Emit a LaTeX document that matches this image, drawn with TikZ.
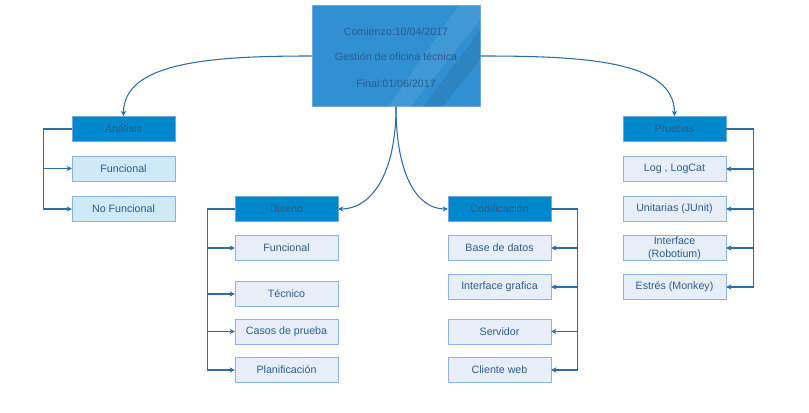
\documentclass[tikz,border=0pt]{standalone}
\usepackage{fontspec}
\setmainfont{Liberation Sans}
\usetikzlibrary{arrows.meta}

\definecolor{hdfill}{HTML}{0088CC}
\definecolor{hdline}{HTML}{6FA8DC}
\definecolor{hdtext}{HTML}{2B5D8C}
\definecolor{rootfill}{HTML}{3090D2}
\definecolor{boxfill}{HTML}{E8EEF8}
\definecolor{cyanfill}{HTML}{D0E9F6}
\definecolor{boxline}{HTML}{8DB3E2}
\definecolor{linkcol}{HTML}{2E6DA4}

\begin{document}
\begin{tikzpicture}[x=0.75pt,y=-0.75pt,
  every node/.style={font=\fontsize{8}{10}\selectfont, align=center, inner sep=0pt},
  head/.style={draw=hdline, fill=hdfill, text=hdtext, minimum width=77pt, minimum height=19pt},
  item/.style={draw=boxline, fill=boxfill, text=hdtext, minimum width=77pt, minimum height=19pt},
  link/.style={draw=linkcol, line width=0.8pt, -{Stealth[length=4pt,width=4pt]}}]
\useasboundingbox (0,0) rectangle (809,413);
% root
\node[draw=hdline, fill=rootfill, minimum width=126pt, minimum height=76pt] (root) at (396,56) {};
\fill[white, opacity=0.08] (458,6) -- (480,6) -- (480,20) -- (410,107) -- (388,107) -- cycle;
\fill[black, opacity=0.08] (480,30) -- (480,60) -- (442,107) -- (423,107) -- cycle;
\node[text=hdtext] at (396,32) {Comienzo:10/04/2017};
\node[text=hdtext] at (396,57) {Gestión de oficina técnica};
\node[text=hdtext] at (396,84) {Final:01/06/2017};
% headers
\node[head] (ana) at (123.5,129) {Análisis};
\node[head] (dis) at (286.5,209) {Diseño};
\node[head] (cod) at (499.5,209) {Codificación};
\node[head] (pru) at (674.5,129) {Pruebas};
% children
\node[item, fill=cyanfill] (anaf) at (123.5,168.5) {Funcional};
\node[item, fill=cyanfill] (anan) at (123.5,209) {No Funcional};
\node[item] (disf) at (286.5,248) {Funcional};
\node[item] (dist) at (286.5,294) {Técnico};
\node[item] (disc) at (286.5,331.5) {Casos de prueba};
\node[item] (disp) at (286.5,370) {Planificación};
\node[item] (codb) at (499.5,248) {Base de datos};
\node[item] (codi) at (499.5,287) {Interface grafica};
\node[item] (cods) at (499.5,331.5) {Servidor};
\node[item] (codc) at (499.5,370) {Cliente web};
\node[item] (prul) at (674.5,169) {Log , LogCat};
\node[item] (pruu) at (674.5,209) {Unitarias (JUnit)};
\node[item] (prui) at (674.5,248) {Interface\\(Robotium)};
\node[item] (prue) at (674.5,287) {Estrés (Monkey)};
% curves from root
\draw[link] (root.west) to[out=180,in=90,out looseness=1.3,in looseness=0.7] (ana.north);
\draw[link] (root.east) to[out=0,in=90,out looseness=1.3,in looseness=0.7] (pru.north);
\draw[link] (root.south) to[out=-90,in=0,out looseness=1.5,in looseness=0.7] (dis.east);
\draw[link] (root.south) to[out=-90,in=180,out looseness=1.5,in looseness=0.7] (cod.west);
% brackets
\draw[link] (ana.west) -- ++(-28,0) |- (anaf.west);
\draw[link] (ana.west) -- ++(-28,0) |- (anan.west);
\draw[link] (dis.west) -- ++(-27,0) |- (disf.west);
\draw[link] (dis.west) -- ++(-27,0) |- (dist.west);
\draw[link] (dis.west) -- ++(-27,0) |- (disc.west);
\draw[link] (dis.west) -- ++(-27,0) |- (disp.west);
\draw[link] (cod.east) -- ++(26,0) |- (codb.east);
\draw[link] (cod.east) -- ++(26,0) |- (codi.east);
\draw[link] (cod.east) -- ++(26,0) |- (cods.east);
\draw[link] (cod.east) -- ++(26,0) |- (codc.east);
\draw[link] (pru.east) -- ++(27,0) |- (prul.east);
\draw[link] (pru.east) -- ++(27,0) |- (pruu.east);
\draw[link] (pru.east) -- ++(27,0) |- (prui.east);
\draw[link] (pru.east) -- ++(27,0) |- (prue.east);
\end{tikzpicture}
\end{document}
